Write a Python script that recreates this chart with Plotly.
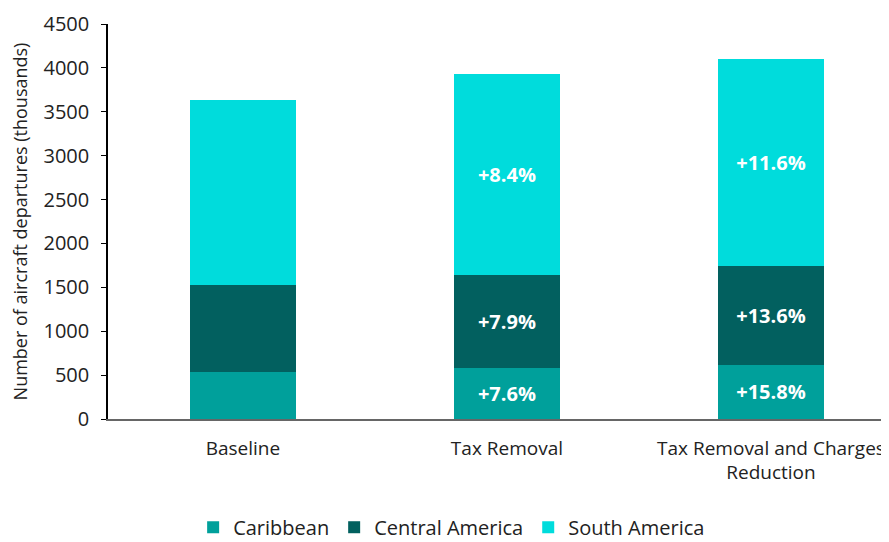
import plotly.graph_objects as go

categories = ["Baseline", "Tax Removal", "Tax Removal and Charges<br>Reduction"]
caribbean = [535, 576, 620]
central_america = [991, 1069, 1126]
south_america = [2108, 2285, 2353]
caribbean_labels = ["", "+7.6%", "+15.8%"]
central_labels = ["", "+7.9%", "+13.6%"]
south_labels = ["", "+8.4%", "+11.6%"]
y_ticks = [0, 500, 1000, 1500, 2000, 2500, 3000, 3500, 4000, 4500]

FONT = "Open Sans, Noto Sans, sans-serif"
label_font = dict(family=FONT, size=20, color="white")

fig = go.Figure()
series = [
    ("Caribbean", caribbean, caribbean_labels, "#00A09B"),
    ("Central America", central_america, central_labels, "#02605F"),
    ("South America", south_america, south_labels, "#00DCDC"),
]
for name, vals, labels, color in series:
    fig.add_trace(go.Bar(
        name=name, x=categories, y=vals, text=[f"<b>{t}</b>" for t in labels],
        texttemplate="%{text}", textposition="inside", insidetextanchor="middle",
        textfont=label_font, marker=dict(color=color, line=dict(width=0)),
        width=0.40, hoverinfo="skip", cliponaxis=False,
    ))

# the page body has an 8px default margin; size the figure so it fills the 889x542 window
fig.update_layout(
    barmode="stack",
    width=881, height=534,
    margin=dict(l=100, r=0, t=16, b=123, autoexpand=False),
    paper_bgcolor="white", plot_bgcolor="white",
    font=dict(family=FONT, size=19, color="#222222"),
    legend=dict(orientation="h", x=0.44, xanchor="center", y=-0.274, yanchor="middle",
                font=dict(size=20, color="#222222"), traceorder="normal",
                itemwidth=30, tracegroupgap=0),
    showlegend=True,
)
fig.update_xaxes(
    range=[-0.511, 2.447], showline=True, linecolor="#666666", linewidth=1.5,
    ticks="", showgrid=False, tickfont=dict(size=19), fixedrange=True,
    ticklabelstandoff=11, automargin=False,
)
fig.update_yaxes(
    range=[0, 4500], tickvals=y_ticks, showline=True, linecolor="black", linewidth=1.5,
    ticks="outside", ticklen=5, tickcolor="black", showgrid=False, zeroline=False,
    tickfont=dict(size=20), ticklabelstandoff=8, automargin=False,
    title=dict(text="Number of aircraft departures (thousands)", font=dict(size=18), standoff=14),
)
fig.write_html("out.html")
